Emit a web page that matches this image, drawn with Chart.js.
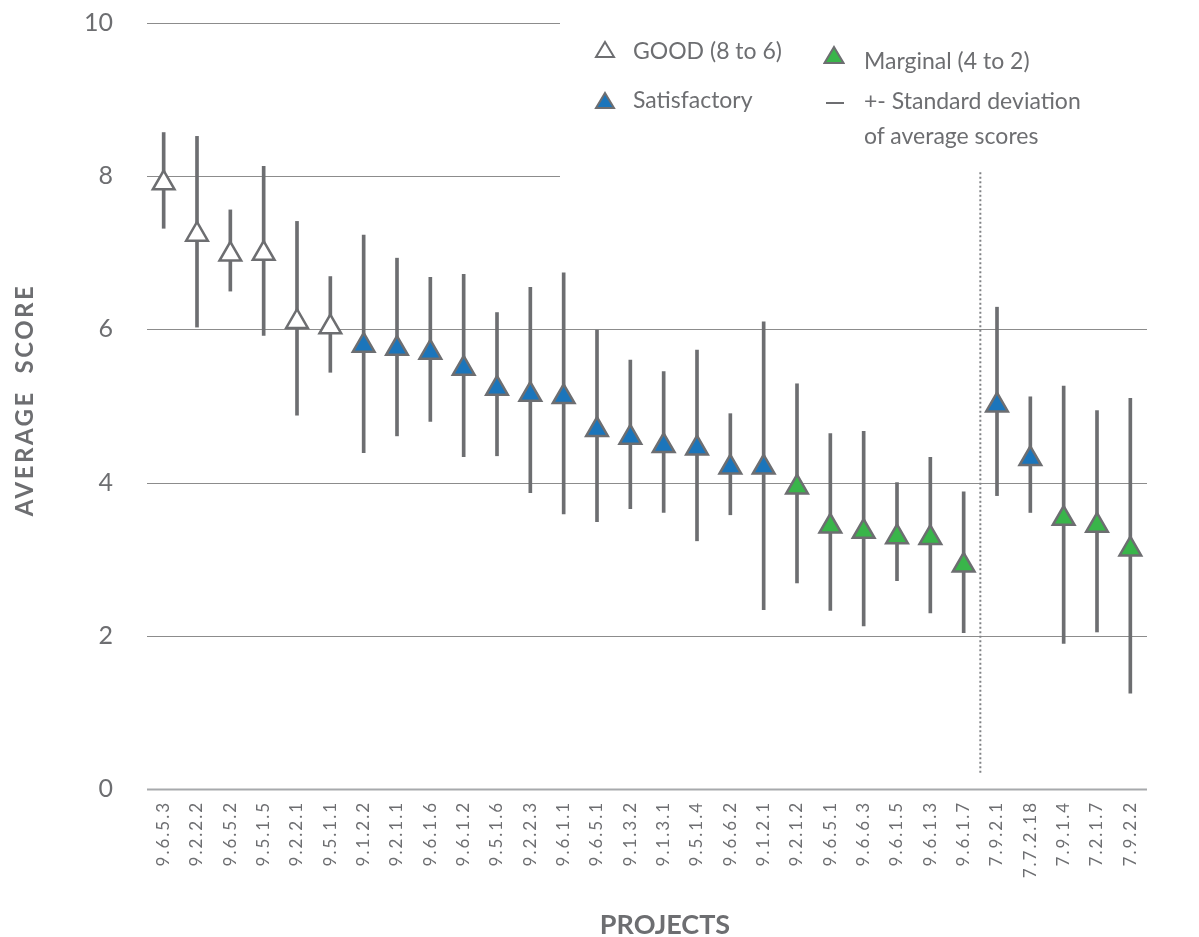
<!DOCTYPE html>
<html>
<head>
<meta charset="utf-8">
<script src="https://cdn.jsdelivr.net/npm/chart.js@4.4.1/dist/chart.umd.min.js"></script>
<style>
  body { margin: 0; background: #fff; }
  #wrap { position: relative; width: 1199px; height: 937px; font-family: Lato, sans-serif; color: #6d6e71; }
  .lg { position: absolute; font-size: 23px; line-height: 1; white-space: nowrap; }
  .mk { position: absolute; }
</style>
</head>
<body>
<div id="wrap">
  <canvas id="scoreChart" width="1199" height="937"></canvas>

  <!-- legend, kept as html so the grid lines underneath can stop short of it -->
  <svg class="mk" style="left:594px;top:40px" width="22" height="20"><polygon points="11,2 20,17 2,17" fill="#fff" stroke="#6d6e71" stroke-width="2"/></svg>
  <div class="lg" style="left:633px;top:39px">GOOD (8 to 6)</div>
  <svg class="mk" style="left:823px;top:45px" width="22" height="21"><polygon points="11,2 20.5,18 1.5,18" fill="#39b54a" stroke="#6d6e71" stroke-width="2"/></svg>
  <div class="lg" style="left:864px;top:49px">Marginal (4 to 2)</div>
  <svg class="mk" style="left:594px;top:91px" width="22" height="20"><polygon points="11,2 20,17 2,17" fill="#1b75bb" stroke="#6d6e71" stroke-width="2"/></svg>
  <div class="lg" style="left:633px;top:88px">Satisfactory</div>
  <div class="mk" style="left:826px;top:102px;width:18px;height:2px;background:#6d6e71"></div>
  <div class="lg" style="left:864px;top:89px">+- Standard deviation</div>
  <div class="lg" style="left:864px;top:124px">of average scores</div>
</div>

<script>
// data
const projects = [
  "9.6.5.3", "9.2.2.2", "9.6.5.2", "9.5.1.5", "9.2.2.1", "9.5.1.1",
  "9.1.2.2", "9.2.1.1", "9.6.1.6", "9.6.1.2", "9.5.1.6", "9.2.2.3",
  "9.6.1.1", "9.6.5.1", "9.1.3.2", "9.1.3.1", "9.5.1.4", "9.6.6.2",
  "9.1.2.1", "9.2.1.2", "9.6.5.1", "9.6.6.3", "9.6.1.5", "9.6.1.3",
  "9.6.1.7", "7.9.2.1", "7.7.2.18", "7.9.1.4", "7.2.1.7", "7.9.2.2"
];
const avgScore = [
  7.91, 7.24, 6.98, 6.99, 6.10, 6.03,
  5.79, 5.75, 5.70, 5.49, 5.23, 5.15,
  5.12, 4.69, 4.59, 4.48, 4.45, 4.20,
  4.20, 3.94, 3.43, 3.36, 3.29, 3.28,
  2.92, 5.01, 4.31, 3.53, 3.44, 3.13
];
const sdLow = [
  7.32, 6.03, 6.50, 5.92, 4.88, 5.44,
  4.39, 4.61, 4.80, 4.34, 4.35, 3.87,
  3.59, 3.49, 3.66, 3.61, 3.24, 3.58,
  2.34, 2.69, 2.33, 2.13, 2.72, 2.30,
  2.04, 3.83, 3.61, 1.90, 2.05, 1.25
];
const sdHigh = [
  8.57, 8.52, 7.56, 8.13, 7.41, 6.69,
  7.23, 6.93, 6.68, 6.72, 6.22, 6.55,
  6.74, 5.99, 5.60, 5.45, 5.73, 4.90,
  6.10, 5.29, 4.64, 4.67, 4.00, 4.33,
  3.88, 6.29, 5.12, 5.26, 4.94, 5.10
];
// G = good, S = satisfactory, M = marginal
const rating = [
  "G", "G", "G", "G", "G", "G",
  "S", "S", "S", "S", "S", "S",
  "S", "S", "S", "S", "S", "S",
  "S", "M", "M", "M", "M", "M",
  "M", "S", "S", "M", "M", "M"
];
const yTicks = [0, 2, 4, 6, 8, 10];
const dividerAfter = 24;          // dotted line sits between these two groups
const dividerRange = [0.2, 8.05];

const GREY = "#6d6e71";
const fillFor = { G: "#ffffff", S: "#1b75bb", M: "#39b54a" };

// grid lines drawn by hand: the top two stop before the legend
const gridPlugin = {
  id: "gridLines",
  beforeDatasetsDraw(chart) {
    const { ctx, chartArea, scales } = chart;
    ctx.save();
    yTicks.forEach(v => {
      const y = Math.round(scales.y.getPixelForValue(v)) + 0.5;
      const right = v >= 8 ? 560 : chartArea.right;
      ctx.beginPath();
      ctx.strokeStyle = v === 0 ? "#a7a9ac" : "#8c8c8c";
      ctx.lineWidth = v === 0 ? 2 : 1;
      ctx.moveTo(chartArea.left, y);
      ctx.lineTo(right, y);
      ctx.stroke();
    });
    // dotted divider between the two project groups
    const x = (scales.x.getPixelForValue(dividerAfter) + scales.x.getPixelForValue(dividerAfter + 1)) / 2;
    ctx.beginPath();
    ctx.setLineDash([2, 2.5]);
    ctx.strokeStyle = "#808285";
    ctx.lineWidth = 2;
    ctx.moveTo(x, scales.y.getPixelForValue(dividerRange[1]));
    ctx.lineTo(x, scales.y.getPixelForValue(dividerRange[0]));
    ctx.stroke();
    ctx.restore();
  }
};

// chart.js has no letter spacing / title offset option, so wrap a few scale draw calls
function tweak(scale, method, spacing, dx, dy) {
  const key = "_tweak_" + method;
  if (scale[key]) return;
  const orig = scale[method];
  scale[method] = function (...args) {
    const c = this.ctx;
    c.save();
    c.letterSpacing = spacing;
    c.translate(dx, dy);
    orig.apply(this, args);
    c.restore();
  };
  scale[key] = true;
}
const tweakPlugin = {
  id: "tweaks",
  beforeDraw(chart) {
    tweak(chart.scales.x, "drawLabels", "2px", 0, 0);
    tweak(chart.scales.x, "drawTitle", "0px", 18, 2);
    tweak(chart.scales.y, "drawTitle", "2.5px", 0, -6);
  }
};

const ctx = document.getElementById("scoreChart").getContext("2d");
new Chart(ctx, {
  type: "bar",
  data: {
    labels: projects,
    datasets: [
      {
        type: "line",
        label: "Average score",
        data: avgScore,
        showLine: false,
        pointStyle: "triangle",
        pointRadius: 12.5,
        pointBorderWidth: 2.5,
        pointBorderColor: GREY,
        pointBackgroundColor: rating.map(r => fillFor[r]),
        order: 0
      },
      {
        label: "Standard deviation",
        data: projects.map((_, i) => [sdLow[i], sdHigh[i]]),
        backgroundColor: GREY,
        borderWidth: 0,
        barThickness: 3,
        order: 1
      }
    ]
  },
  options: {
    responsive: false,
    animation: false,
    layout: { padding: { top: 23, right: 52, bottom: 0, left: 0 } },
    plugins: {
      legend: { display: false },
      tooltip: { enabled: false }
    },
    scales: {
      x: {
        grid: { display: false, drawTicks: false },
        border: { display: false },
        ticks: {
          autoSkip: false,
          maxRotation: 90,
          minRotation: 90,
          padding: 12,
          color: GREY,
          font: { family: "Lato", size: 17 }
        },
        title: {
          display: true,
          text: "PROJECTS",
          color: GREY,
          font: { family: "Lato", size: 27, weight: "bold", lineHeight: 1 },
          padding: { top: 0, bottom: 0 }
        },
        afterFit(scale) { scale.height = 148; }
      },
      y: {
        min: 0,
        max: 10,
        grid: { display: false, drawTicks: false },
        border: { display: false },
        ticks: {
          stepSize: 2,
          padding: 34,
          color: GREY,
          font: { family: "Lato", size: 25 }
        },
        title: {
          display: true,
          text: "AVERAGE  SCORE",
          color: GREY,
          font: { family: "Lato", size: 24, weight: "bold", lineHeight: 1 },
          padding: { top: 13, bottom: 0 }
        },
        afterFit(scale) {
          scale.width = 147;
          // tick padding would otherwise push the plot top down
          scale.paddingTop = 0;
          scale.paddingBottom = 0;
        }
      }
    }
  },
  plugins: [gridPlugin, tweakPlugin]
});
</script>
</body>
</html>
